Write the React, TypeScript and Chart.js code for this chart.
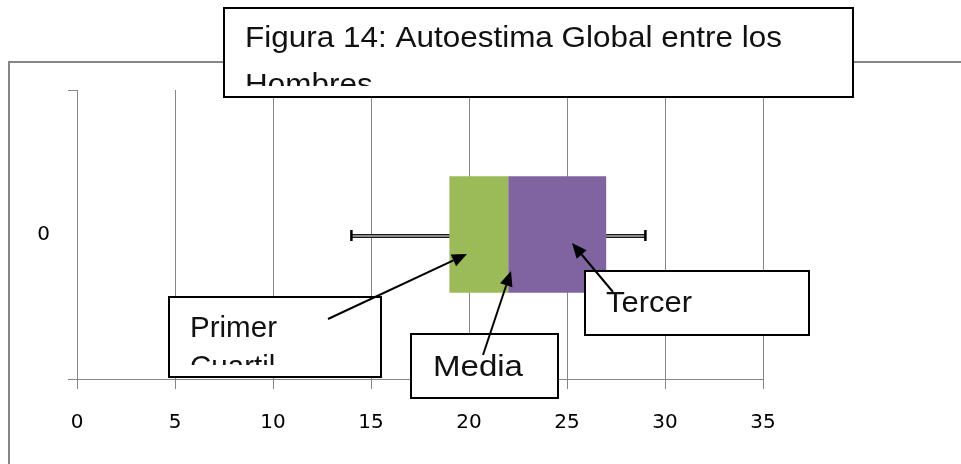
import React, { useEffect, useRef } from 'react';
import { Chart, registerables } from 'chart.js';

Chart.register(...registerables);

// ---- data ----
const categories = ['0'];
const minValues = [14];
const q1Values = [19];
const medianValues = [22];
const q3Values = [27];
const maxValues = [29];
const xMin = 0;
const xMax = 35;
const xStep = 5;

const titleLines = ['Figura 14: Autoestima Global entre los', 'Hombres'];
const primerLines = ['Primer', 'Cuartil'];
const mediaLines = ['Media'];
const tercerLines = ['Tercer', 'Cuartil'];

// ---- styles ----
const GRID = '#868686';
const GREEN = '#9BBB59';
const PURPLE = '#8064A2';
const NOTE_FONT = '"Liberation Sans", Arial, sans-serif';

type Note = {
  lines: string[];
  box: [number, number, number, number];
  textX: number;
  baseline: number;
  lineGap: number;
  fitWidth: number;
  clipBottom: number;
};

const notes: Note[] = [
  { lines: titleLines, box: [224, 8, 629, 89], textX: 245, baseline: 47, lineGap: 47, fitWidth: 537, clipBottom: 86 },
  { lines: primerLines, box: [169, 297, 212, 80], textX: 190, baseline: 337, lineGap: 39, fitWidth: 87, clipBottom: 365 },
  { lines: mediaLines, box: [411, 334, 147, 64], textX: 433, baseline: 376, lineGap: 39, fitWidth: 90, clipBottom: 395 },
  { lines: tercerLines, box: [585, 271, 224, 64], textX: 606, baseline: 312, lineGap: 39, fitWidth: 86, clipBottom: 322 },
];

const arrows: [number, number, number, number][] = [
  [328, 319, 467, 254],
  [483, 355, 511, 271],
  [613, 292, 572, 243],
];

function drawArrow(ctx: CanvasRenderingContext2D, x1: number, y1: number, x2: number, y2: number) {
  const ang = Math.atan2(y2 - y1, x2 - x1);
  const headLen = 15;
  const half = 6.5;
  const bx = x2 - headLen * Math.cos(ang);
  const by = y2 - headLen * Math.sin(ang);
  ctx.save();
  ctx.strokeStyle = '#000';
  ctx.fillStyle = '#000';
  ctx.lineWidth = 2;
  ctx.beginPath();
  ctx.moveTo(x1, y1);
  ctx.lineTo(bx, by);
  ctx.stroke();
  ctx.beginPath();
  ctx.moveTo(x2, y2);
  ctx.lineTo(bx + half * Math.sin(ang), by - half * Math.cos(ang));
  ctx.lineTo(bx - half * Math.sin(ang), by + half * Math.cos(ang));
  ctx.closePath();
  ctx.fill();
  ctx.restore();
}

const notesPlugin = {
  id: 'boxNotes',
  beforeDraw(chart: any) {
    const ctx: CanvasRenderingContext2D = chart.ctx;
    ctx.save();
    ctx.fillStyle = '#ffffff';
    ctx.fillRect(0, 0, chart.width, chart.height);
    ctx.strokeStyle = GRID;
    ctx.lineWidth = 2;
    ctx.strokeRect(9, 62, chart.width + 20, chart.height + 20);
    ctx.restore();
  },
  afterDatasetsDraw(chart: any) {
    const ctx: CanvasRenderingContext2D = chart.ctx;
    const xs = chart.scales.x;
    const ys = chart.scales.y;
    ctx.save();
    categories.forEach((_, i) => {
      const y = ys.getPixelForValue(i) + 1.5;
      const a = xs.getPixelForValue(minValues[i]);
      const b = xs.getPixelForValue(q1Values[i]);
      const c = xs.getPixelForValue(q3Values[i]);
      const d = xs.getPixelForValue(maxValues[i]);
      for (const [s, e] of [[a, b], [c, d]]) {
        ctx.strokeStyle = '#1a1a1a';
        ctx.lineWidth = 4;
        ctx.beginPath();
        ctx.moveTo(s, y);
        ctx.lineTo(e, y);
        ctx.stroke();
        ctx.strokeStyle = '#8a8a8a';
        ctx.lineWidth = 2;
        ctx.beginPath();
        ctx.moveTo(s, y);
        ctx.lineTo(e, y);
        ctx.stroke();
      }
      ctx.strokeStyle = '#000';
      ctx.lineWidth = 2.5;
      for (const xp of [a, d]) {
        ctx.beginPath();
        ctx.moveTo(xp, y - 6);
        ctx.lineTo(xp, y + 5);
        ctx.stroke();
      }
    });
    ctx.restore();
  },
  afterDraw(chart: any) {
    const ctx: CanvasRenderingContext2D = chart.ctx;
    ctx.save();
    for (const n of notes) {
      const [bx, by, bw, bh] = n.box;
      ctx.fillStyle = '#ffffff';
      ctx.fillRect(bx, by, bw, bh);
      ctx.strokeStyle = '#000';
      ctx.lineWidth = 2;
      ctx.strokeRect(bx, by, bw, bh);
      ctx.save();
      ctx.beginPath();
      ctx.rect(bx + 1, by + 1, bw - 2, n.clipBottom - by - 1);
      ctx.clip();
      ctx.font = `29px ${NOTE_FONT}`;
      ctx.fillStyle = '#111';
      ctx.textBaseline = 'alphabetic';
      ctx.textAlign = 'left';
      const w = ctx.measureText(n.lines[0]).width;
      const sx = n.fitWidth / w;
      n.lines.forEach((line, k) => {
        ctx.save();
        ctx.translate(n.textX, n.baseline + k * n.lineGap);
        ctx.scale(sx, 1);
        ctx.fillText(line, 0, 0);
        ctx.restore();
      });
      ctx.restore();
    }
    for (const [x1, y1, x2, y2] of arrows) drawArrow(ctx, x1, y1, x2, y2);
    ctx.restore();
  },
};

export default function App() {
  const ref = useRef<HTMLCanvasElement | null>(null);

  useEffect(() => {
    if (!ref.current) return;
    const chart = new Chart(ref.current, {
      type: 'bar',
      data: {
        labels: categories,
        datasets: [
          {
            label: 'base',
            data: q1Values,
            backgroundColor: 'rgba(0,0,0,0)',
            barPercentage: 0.403,
            categoryPercentage: 1,
          },
          {
            label: 'Primer Cuartil',
            data: medianValues.map((m, i) => m - q1Values[i]),
            backgroundColor: GREEN,
            barPercentage: 0.403,
            categoryPercentage: 1,
          },
          {
            label: 'Tercer Cuartil',
            data: q3Values.map((q, i) => q - medianValues[i]),
            backgroundColor: PURPLE,
            barPercentage: 0.403,
            categoryPercentage: 1,
          },
        ],
      },
      options: {
        indexAxis: 'y',
        responsive: false,
        animation: false,
        devicePixelRatio: 1,
        layout: { padding: { left: 0, right: 198, top: 90, bottom: 0 } },
        plugins: {
          legend: { display: false },
          tooltip: { enabled: false },
          title: { display: false },
        },
        scales: {
          x: {
            stacked: true,
            min: xMin,
            max: xMax,
            ticks: {
              stepSize: xStep,
              color: '#000',
              font: { family: '"DejaVu Sans"', size: 20 },
              padding: 22,
            },
            grid: { color: GRID, lineWidth: 1, tickLength: 10, drawOnChartArea: true },
            border: { color: GRID, width: 1 },
            afterFit: (s: any) => {
              s.height = 85;
            },
          },
          y: {
            stacked: true,
            ticks: {
              color: '#000',
              font: { family: '"DejaVu Sans"', size: 20 },
              padding: 18,
            },
            grid: { color: GRID, lineWidth: 1, tickLength: 9, drawOnChartArea: false, offset: true },
            border: { color: GRID, width: 1 },
            afterFit: (s: any) => {
              s.width = 77;
            },
          },
        },
      },
      plugins: [notesPlugin],
    } as any);
    return () => chart.destroy();
  }, []);

  return (
    <div style={{ position: 'absolute', left: 0, top: 0, width: 961, height: 464 }}>
      <canvas ref={ref} width={961} height={464} style={{ display: 'block' }} />
    </div>
  );
}
